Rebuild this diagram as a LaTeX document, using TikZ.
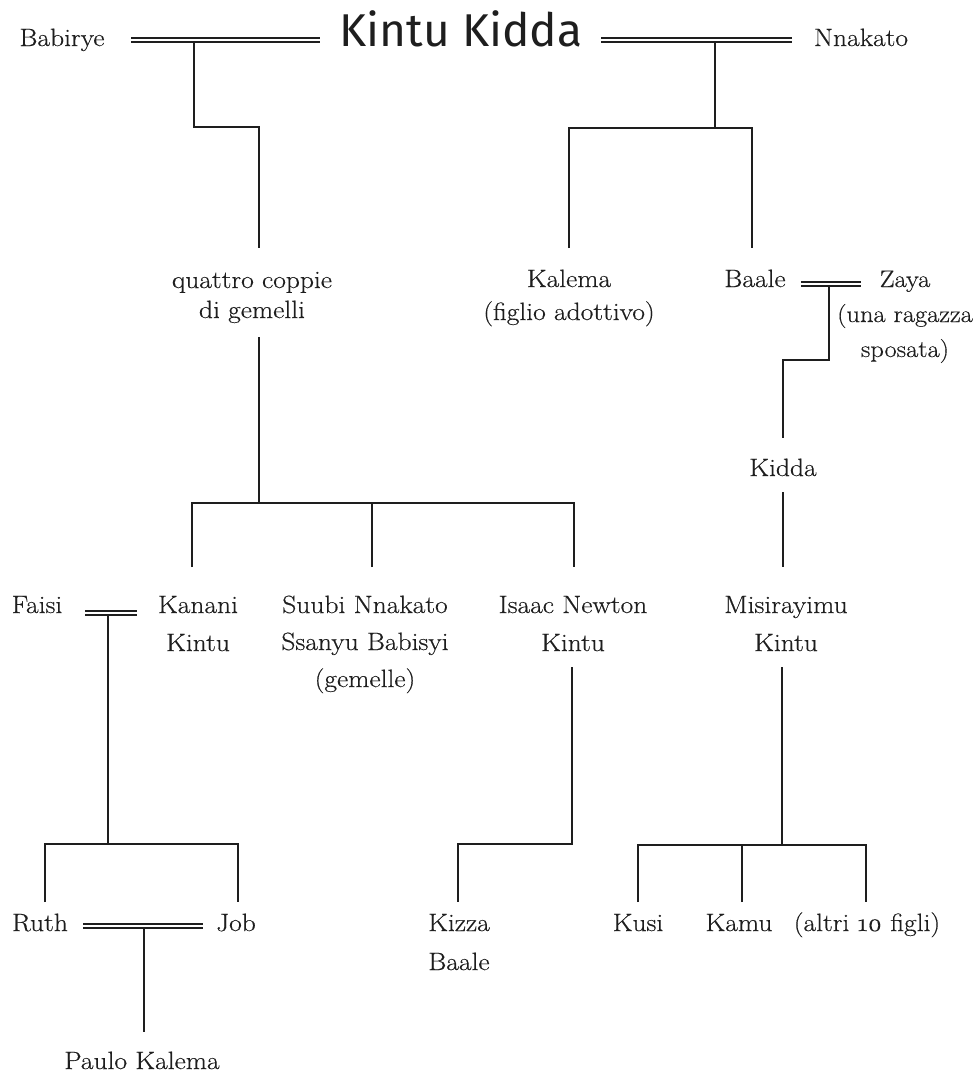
\documentclass[tikz,border=0pt]{standalone}
\usepackage{fontspec}
\setmainfont{Latin Modern Roman}[FakeStretch=1.1, FakeBold=0.4]
\newfontfamily\kkfont{Fira Sans}
\usetikzlibrary{calc}
\definecolor{ink}{RGB}{30,30,30}
\tikzset{
  person/.style={anchor=base, inner sep=0pt, align=center, text=ink,
    font=\fontsize{25}{36}\selectfont},
  kin/.style={draw=ink, line width=2.8pt},
  marriage/.style={draw=ink, line width=1.5pt, double=white, double distance=2.3pt},
}
\begin{document}
\begin{tikzpicture}[x=1pt,y=-1pt]
\useasboundingbox[fill=white] (0,0) rectangle (979,1079);

% (for multi-line nodes the base anchor is the baseline of the last line)
% ---- generation 1
\node[person] (bab) at (62,46) {Babirye};
\node[anchor=base, inner sep=0pt, text=ink, font=\kkfont\fontsize{46}{46}\selectfont] (kk) at (461,46) {Kintu Kidda};
\node[person] (nna) at (861,46) {Nnakato};

% ---- generation 2
\node[person, font=\fontsize{25}{30}\selectfont] (qc) at (252,318) {quattro coppie\\di gemelli};
\node[person, font=\fontsize{25}{33}\selectfont] (kal) at (569,320) {Kalema\\(figlio adottivo)};
\node[person] (baa) at (755,287) {Baale};
\node[person, font=\fontsize{24}{35}\selectfont] (zay) at (905,357) {Zaya\\(una ragazza\\sposata)};
\node[person] (kid) at (783,476) {Kidda};

% ---- generation 3
\node[person] (fai) at (37,613) {Faisi};
\node[person, font=\fontsize{25}{38}\selectfont] (kan) at (198,651) {Kanani\\Kintu};
\node[person, font=\fontsize{25}{37}\selectfont] (suu) at (365,687) {Suubi Nnakato\\Ssanyu Babisyi\\(gemelle)};
\node[person, font=\fontsize{25}{38}\selectfont] (isa) at (573,651) {Isaac Newton\\Kintu};
\node[person, font=\fontsize{25}{38}\selectfont] (mis) at (786,651) {Misirayimu\\Kintu};

% ---- generation 4
\node[person] (rut) at (40,931) {Ruth};
\node[person] (job) at (236,931) {Job};
\node[person, font=\fontsize{25}{39}\selectfont] (kiz) at (459,970) {Kizza\\Baale};
\node[person] (kus) at (638,931) {Kusi};
\node[person] (kam) at (739,931) {Kamu};
\node[person] (alt) at (867,931) {(altri \oldstylenums{10} figli)};

% ---- generation 5
\node[person] (pau) at (142,1069) {Paulo Kalema};

% ---- marriages
\coordinate (m1a) at (131,40);  \coordinate (m1b) at (320,40);
\coordinate (m2a) at (601,40);  \coordinate (m2b) at (792,40);
\coordinate (m3a) at (801,284); \coordinate (m3b) at (861,284);
\coordinate (m4a) at (85,613);  \coordinate (m4b) at (137,613);
\coordinate (m5a) at (83,926);  \coordinate (m5b) at (203,926);
\draw[marriage] (m1a) -- (m1b);
\draw[marriage] (m2a) -- (m2b);
\draw[marriage] (m3a) -- (m3b);
\draw[marriage] (m4a) -- (m4b);
\draw[marriage] (m5a) -- (m5b);

% ---- descent lines
% Kintu + Babirye -> quattro coppie
\coordinate (d1) at (194,43);   \coordinate (e1) at (259,248);
\draw[kin] (d1) |- (e1 |- 0,127) -- (e1);
% Kintu + Nnakato -> Kalema, Baale
\coordinate (d2) at (715,43);   \coordinate (b2) at (715,128);
\coordinate (e2a) at (569,248); \coordinate (e2b) at (752,248);
\draw[kin] (d2) -- (b2);
\draw[kin] (e2a) |- (b2) -| (e2b);
% Baale + Zaya -> Kidda
\coordinate (d3) at (829,286);  \coordinate (e3) at (783,438);
\draw[kin] (d3) |- (e3 |- 0,360) -- (e3);
% Kidda -> Misirayimu
\coordinate (d4) at (783,492);  \coordinate (e4) at (783,567);
\draw[kin] (d4) -- (e4);
% quattro coppie -> Kanani, Suubi, Isaac
\coordinate (d5) at (259,337);  \coordinate (b5) at (259,503);
\coordinate (e5a) at (192,567); \coordinate (e5b) at (372,567); \coordinate (e5c) at (574,567);
\draw[kin] (d5) -- (b5);
\draw[kin] (e5a) |- (b5) -| (e5c);
\draw[kin] (e5b) -- (e5b |- b5);
% Faisi + Kanani -> Ruth, Job
\coordinate (d6) at (108,615);  \coordinate (b6) at (108,844);
\coordinate (e6a) at (45,902);  \coordinate (e6b) at (238,902);
\draw[kin] (d6) -- (b6);
\draw[kin] (e6a) |- (b6) -| (e6b);
% Ruth + Job -> Paulo Kalema
\coordinate (d7) at (144,928);  \coordinate (e7) at (144,1032);
\draw[kin] (d7) -- (e7);
% Isaac Newton -> Kizza Baale
\coordinate (d8) at (572,667);  \coordinate (e8) at (458,902);
\draw[kin] (d8) |- (e8 |- 0,844) -- (e8);
% Misirayimu -> Kusi, Kamu, altri
\coordinate (d9) at (782,667);  \coordinate (b9) at (782,845);
\coordinate (e9a) at (638,902); \coordinate (e9b) at (742,902); \coordinate (e9c) at (866,902);
\draw[kin] (d9) -- (b9);
\draw[kin] (e9a) |- (b9) -| (e9c);
\draw[kin] (e9b) -- (e9b |- b9);
\end{tikzpicture}
\end{document}
